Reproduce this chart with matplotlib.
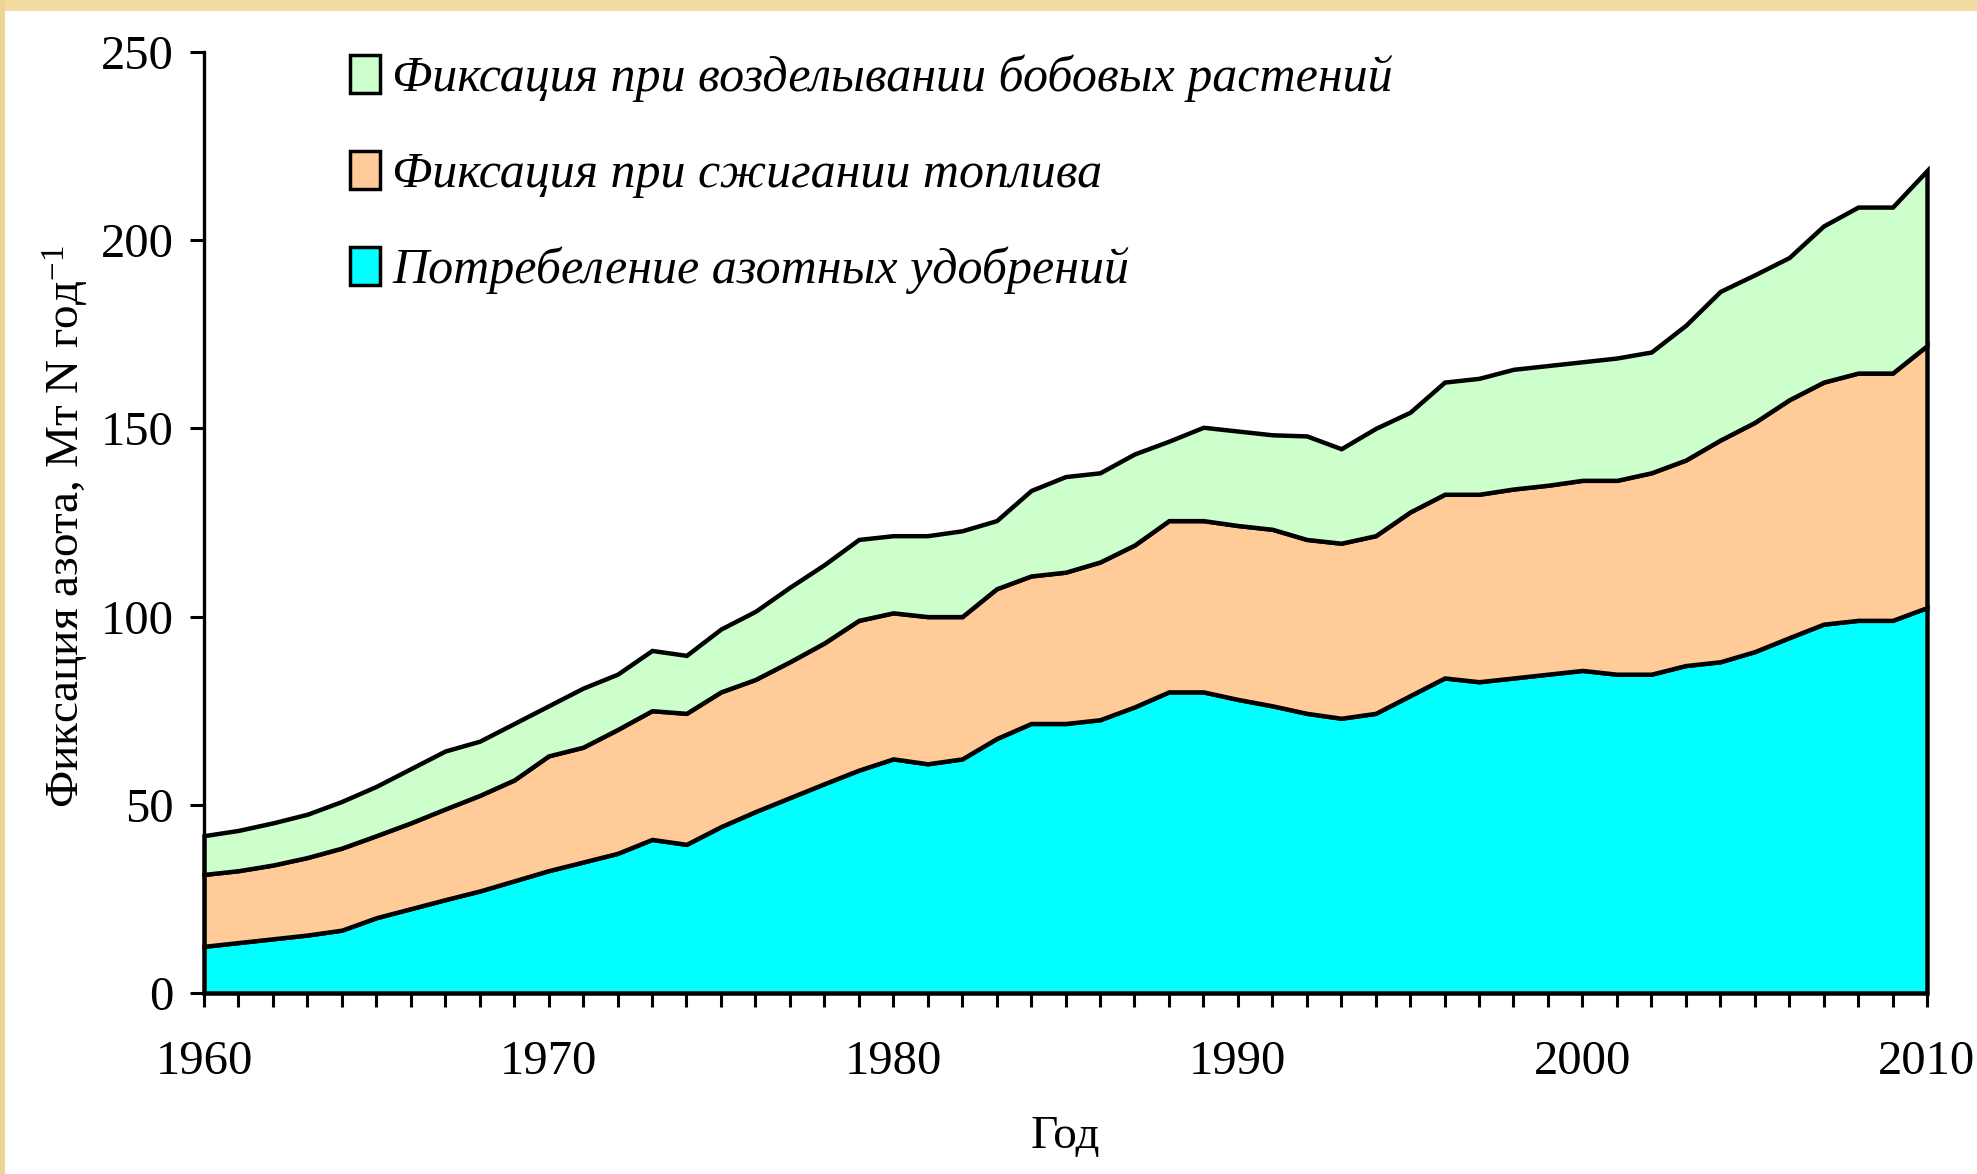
import numpy as np
import matplotlib
matplotlib.use('Agg')
import matplotlib.pyplot as plt
from matplotlib.patches import Patch, Rectangle

plt.rcParams['font.family'] = ['Liberation Serif', 'DejaVu Serif']
plt.rcParams['mathtext.default'] = 'regular'

# years and the three components (Mt N per year)
years = list(range(1960, 2011))

fertilizer = [12.4, 13.4, 14.4, 15.4, 16.7, 20.0, 22.4, 24.8, 27.1, 29.8,
              32.5, 34.8, 37.1, 40.8, 39.5, 44.2, 48.2, 51.9, 55.6, 59.2,
              62.2, 60.9, 62.2, 67.6, 71.6, 71.6, 72.6, 76.0, 80.0, 80.0,
              78.0, 76.3, 74.3, 73.0, 74.3, 79.0, 83.7, 82.7, 83.7, 84.7,
              85.7, 84.7, 84.7, 87.0, 88.0, 90.7, 94.4, 98.0, 99.0, 99.0,
              102.4]

fuel = [19.1, 19.1, 19.6, 20.6, 21.8, 21.8, 22.8, 24.1, 25.4, 26.8,
        30.5, 30.5, 32.9, 34.2, 34.8, 35.8, 35.1, 36.1, 37.4, 39.8,
        38.8, 39.1, 37.8, 39.8, 39.2, 40.2, 41.9, 43.0, 45.5, 45.5,
        46.2, 46.9, 46.2, 46.5, 47.2, 48.8, 48.8, 49.8, 50.2, 50.2,
        50.5, 51.5, 53.5, 54.6, 58.9, 60.9, 63.2, 64.3, 65.7, 65.7,
        69.6]

legumes = [10.3, 10.7, 11.2, 11.5, 12.4, 13.1, 14.4, 15.4, 14.4, 15.0,
           13.3, 15.7, 14.7, 16.0, 15.4, 16.7, 18.1, 19.8, 20.8, 21.5,
           20.5, 21.5, 22.8, 18.1, 22.7, 25.4, 23.7, 24.2, 21.1, 24.8,
           25.1, 25.1, 27.5, 25.1, 28.5, 26.5, 29.8, 30.8, 31.8, 31.8,
           31.5, 32.5, 32.1, 35.8, 39.5, 39.2, 37.8, 41.5, 44.1, 44.1,
           46.5]

labels = ['Фиксация при возделывании бобовых растений',
          'Фиксация при сжигании топлива',
          'Потребеление азотных удобрений']
colors = ['#CCFFCC', '#FFCC99', '#00FFFF']

W, H = 1977, 1174
fig = plt.figure(figsize=(W / 100, H / 100), dpi=100)
fig.patch.set_facecolor('white')

# beige strip along top and left edge
fig.patches.append(Rectangle((0, 1 - 11 / H), 1, 11 / H, transform=fig.transFigure,
                             facecolor='#f1dca2', edgecolor='none', zorder=0))
fig.patches.append(Rectangle((0, 0), 5 / W, 1, transform=fig.transFigure,
                             facecolor='#ecd595', edgecolor='none', zorder=0))

ax = fig.add_axes([204 / W, 1 - 993 / H, (1927 - 204) / W, (993 - 52) / H])
ax.set_facecolor('none')

polys = ax.stackplot(years, fertilizer, fuel, legumes,
                     colors=[colors[2], colors[1], colors[0]],
                     edgecolor='black', linewidth=3.2)
for p in polys:
    p.set_clip_on(False)
    p.set_joinstyle('miter')

ax.set_xlim(1960, 2010)
ax.set_ylim(0, 250)
ax.set_xticks(range(1960, 2011, 10))
ax.set_xticks(years, minor=True)
ax.set_yticks(range(0, 251, 50))

for s in ['top', 'right']:
    ax.spines[s].set_visible(False)
for s in ['left', 'bottom']:
    ax.spines[s].set_linewidth(2.4)
    ax.spines[s].set_zorder(5)

ax.tick_params(axis='x', which='both', direction='out', length=10, width=2.2,
               labelsize=35, pad=24)
ax.tick_params(axis='y', which='major', direction='out', length=10, width=2.2,
               labelsize=35, pad=12)

fig.text(66 / W, 1 - 526 / H, 'Фиксация азота, Мт N год$^{-1}$', rotation=90,
         ha='center', va='center', fontsize=34)
fig.text(1065 / W, 1 - 1137 / H, 'Год', ha='center', va='center', fontsize=34)

handles = [Patch(facecolor=c, edgecolor='black', linewidth=2.5) for c in colors]
ax.legend(handles, labels, loc='upper left', bbox_to_anchor=(350 / W, 1 - 55 / H),
          bbox_transform=fig.transFigure, frameon=False, borderpad=0, borderaxespad=0,
          prop={'style': 'italic', 'size': 36}, handlelength=0.6, handleheight=0.8,
          handletextpad=0.25, labelspacing=0.97)

fig.savefig('out.png', dpi=100)
